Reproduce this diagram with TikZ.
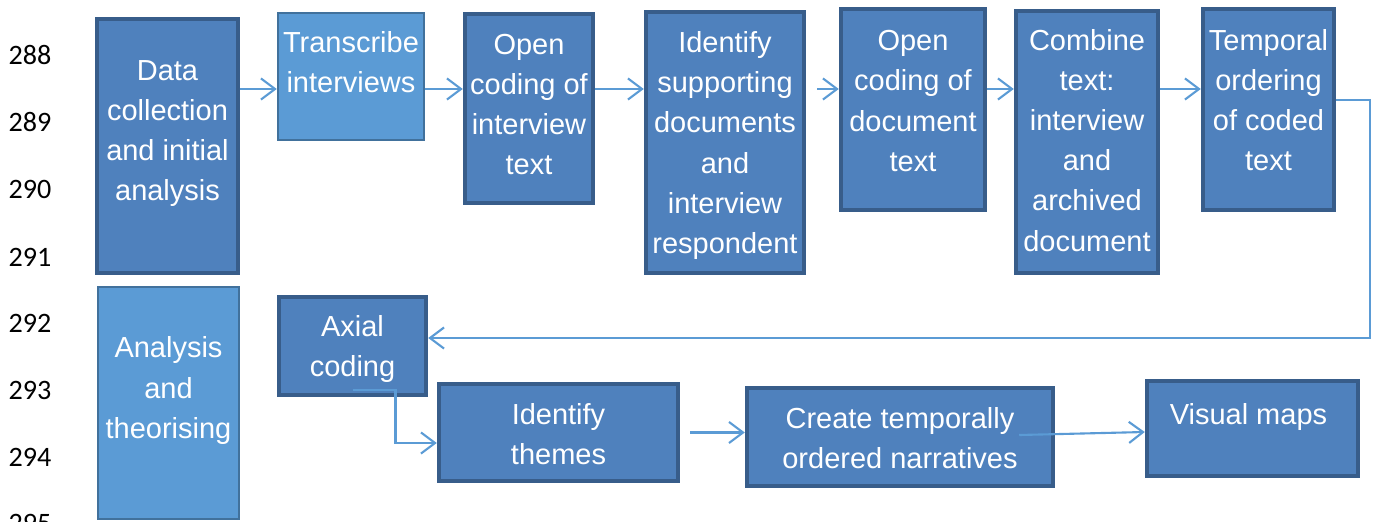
\documentclass[tikz,border=0pt]{standalone}
\usepackage{fontspec}
\setmainfont{Liberation Sans}
\newfontfamily\numfont{Carlito}
\usetikzlibrary{arrows.meta}
\definecolor{boxdark}{HTML}{4F81BD}
\definecolor{boxedge}{HTML}{385D8A}
\definecolor{boxlight}{HTML}{5B9BD5}
\definecolor{lightedge}{HTML}{41719C}
\definecolor{flowblue}{HTML}{5B9BD5}

\begin{document}
\begin{tikzpicture}[x=0.02cm,y=-0.02cm,>={Straight Barb[length=8pt,width=12pt]},
	darkbox/.style={draw=boxedge,fill=boxdark,line width=0.09cm,inner sep=0pt},
	lightbox/.style={draw=lightedge,fill=boxlight,line width=0.05cm,inner sep=0pt},
	boxtext/.style={text=white,align=center,inner sep=0pt,font=\fontsize{16.5}{22.8}\selectfont},
	lineno/.style={font=\numfont\fontsize{16}{18}\selectfont,inner sep=0pt},
	flow/.style={->,draw=flowblue,line width=1.2pt}]
	\useasboundingbox (0,0) rectangle (1376,521);
	% line numbers of the page
	\foreach \n/\y in {288/55, 289/122, 290/189, 291/257, 292/323, 293/390, 294/457, 295/523}
		\node[lineno] (ln\n) at (30,\y) {\n};
	% boxes: name/style/x/y/width/height/text shift/text
	\foreach \nm/\st/\x/\y/\w/\h/\s/\t in {
			data/darkbox/167.5/146/2.82/5.08/0.25/{Data\\collection\\and initial\\analysis},
			trans/lightbox/351/76.5/2.92/2.54/0.29/{Transcribe\\interviews},
			openint/darkbox/529/108.5/2.56/3.78/0.08/{Open\\coding of\\interview\\text},
			ident/darkbox/725/142.5/3.16/5.22/-0.06/{Identify\\supporting\\documents\\and\\interview\\respondent},
			opendoc/darkbox/913/109.5/2.88/4.02/0.17/{Open\\coding of\\document\\text},
			comb/darkbox/1087/142/2.84/5.24/0.03/{Combine\\text:\\interview\\and\\archived\\document},
			temp/darkbox/1268.5/109.5/2.62/4.02/0.18/{Temporal\\ordering\\of coded\\text},
			anal/lightbox/168.5/403/2.82/4.64/0.25/{Analysis\\and\\theorising},
			axial/darkbox/352.5/346/2.94/1.96/-0.06/{Axial\\coding},
			themes/darkbox/558.5/432.5/4.78/1.94/-0.03/{Identify\\themes},
			narr/darkbox/900/437/6.12/1.96/-0.02/{Create temporally\\ordered narratives},
			maps/darkbox/1252.5/428.5/4.22/1.90/0.23/{Visual maps}
			} {
		\node[\st,minimum width=\w cm,minimum height=\h cm] (\nm) at (\x,\y) {};
		\node[boxtext] (\nm-t) at ([yshift=\s cm]\nm.center) {\t};
	};
	% flow
	\coordinate (rowa) at (0,89);
	\draw[flow] (data.east |- rowa) -- (trans.west |- rowa);
	\draw[flow] (trans.east |- rowa) -- (openint.west |- rowa);
	\draw[flow] (openint.east |- rowa) -- (ident.west |- rowa);
	\draw[flow] (ident.east |- rowa) ++(11,0) -- (opendoc.west |- rowa);
	\draw[flow] (opendoc.east |- rowa) -- (comb.west |- rowa);
	\draw[flow] (comb.east |- rowa) -- (temp.west |- rowa);
	\draw[flow] ([yshift=0.19cm]temp.east) -- ++(34,0) |- ([yshift=0.16cm]axial.east);
	\draw[flow] ([yshift=0.14cm]axial.south) -- ++(43,0) |- ([yshift=-0.21cm]themes.west);
	\draw[flow] (themes.east) ++(10,0) -- (narr.west |- themes.east);
	\draw[flow] ([xshift=-0.72cm,yshift=0.04cm]narr.east) -- ([yshift=-0.07cm]maps.west);
\end{tikzpicture}
\end{document}
